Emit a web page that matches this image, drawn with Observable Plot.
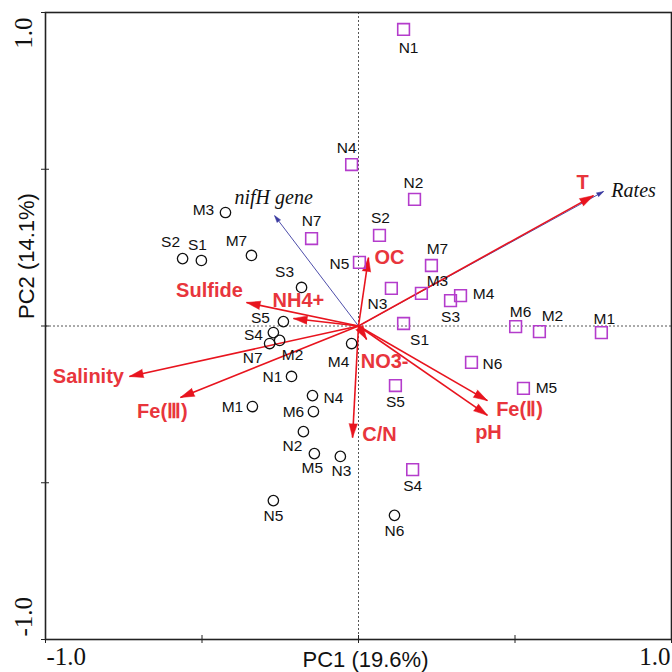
<!DOCTYPE html>
<html>
<head>
<meta charset="utf-8">
<script src="https://cdn.jsdelivr.net/npm/d3@7"></script>
<script src="https://cdn.jsdelivr.net/npm/@observablehq/plot@0.6"></script>
<style>
  html, body { margin: 0; padding: 0; background: #fff; }
  #chart { width: 672px; height: 672px; }
</style>
</head>
<body>
<div id="chart"></div>
<script>
// ---- Data ----
const circleNames = ["M3","S2","S1","M7","S3","S5","S4","M2","N7","N1","M4","N4","M6","M1","N2","M5","N3","N5","N6"];
const circlePC1 = [-0.425,-0.562,-0.502,-0.342,-0.182,-0.240,-0.272,-0.252,-0.284,-0.214,-0.022,-0.147,-0.144,-0.339,-0.176,-0.141,-0.058,-0.272,0.115];
const circlePC2 = [0.362,0.215,0.209,0.225,0.123,0.014,-0.021,-0.046,-0.056,-0.161,-0.056,-0.222,-0.273,-0.257,-0.337,-0.407,-0.416,-0.557,-0.604];

const squareNames = ["N1","N4","N2","N7","S2","N5","M7","M3","N3","S3","M4","S1","M6","M2","M1","N6","M5","S5","S4"];
const squarePC1 = [0.144,-0.022,0.179,-0.150,0.067,0.003,0.233,0.201,0.105,0.294,0.326,0.144,0.502,0.578,0.776,0.361,0.527,0.118,0.173];
const squarePC2 = [0.946,0.515,0.404,0.279,0.289,0.203,0.193,0.104,0.120,0.081,0.097,0.008,-0.002,-0.018,-0.021,-0.116,-0.199,-0.190,-0.458];

const envNames = ["T","OC","Sulfide","NH4+","Salinity","Fe(Ⅲ)","NO3-","C/N","Fe(Ⅱ)","pH"];
const envPC1 = [0.751,0.032,-0.358,-0.208,-0.732,-0.569,0.026,-0.019,0.412,0.412];
const envPC2 = [0.416,0.218,0.075,0.024,-0.161,-0.228,-0.043,-0.356,-0.238,-0.285];

const respNames = ["nifH gene","Rates"];
const respPC1 = [-0.268,0.783];
const respPC2 = [0.352,0.429];

const xTicks = [-1,-0.5,0,0.5,1];
const yTicks = [-1,-0.5,0,0.5,1];
const xTitle = "PC1 (19.6%)";
const yTitle = "PC2 (14.1%)";

// ---- Style: label offsets (px) ----
const circleOff = {M3:[-22,-2],S2:[-12,-17],S1:[-4,-15],M7:[-15,-14],S3:[-17,-15],S5:[-23,-4],S4:[-20,2],
  M2:[13,15],N7:[-17,14],N1:[-19,1],M4:[-13,18],N4:[21,2],M6:[-20,0],M1:[-20,0],N2:[-11,14],M5:[-2,14],
  N3:[1,15],N5:[0,15],N6:[0,16]};
const squareOff = {N1:[5,19],N4:[-5,-17],N2:[-1,-16],N7:[0,-18],S2:[1,-17],N5:[-20,2],M7:[6,-16],M3:[16,-12],
  N3:[-14,16],S3:[0,16],M4:[23,-2],S1:[16,17],M6:[5,-15],M2:[13,-16],M1:[3,-14],N6:[21,2],M5:[23,0],S5:[0,16],S4:[0,16]};
const envOff = {"T":[-11,-13],"OC":[21,0],"Sulfide":[-37,-12],"NH4+":[5,-18],"Salinity":[-41,0],"Fe(Ⅲ)":[-18,14],
  "NO3-":[18,22],"C/N":[27,-3],"Fe(Ⅱ)":[32,9],"pH":[1,17]};
const respOff = {"nifH gene":[-1,-18],"Rates":[30,-1]};

const RED = "#e8141e";
const RED_TXT = "#e8353c";
const PURPLE = "#b43ccc";
const BLUE = "#3a3aa0";
const SANS = "'Liberation Sans', Arial, sans-serif";
const SERIF = "'Liberation Serif', 'Times New Roman', serif";

const circles = circleNames.map((n,i)=>({name:n,x:circlePC1[i],y:circlePC2[i]}));
const squares = squareNames.map((n,i)=>({name:n,x:squarePC1[i],y:squarePC2[i]}));
const env = envNames.map((n,i)=>({name:n,x:envPC1[i],y:envPC2[i]}));
const resp = respNames.map((n,i)=>({name:n,x:respPC1[i],y:respPC2[i]}));
const angle = d => Math.atan2(d.x, d.y) * 180 / Math.PI;

const marks = [
  Plot.ruleX([0], {stroke:"#555", strokeDasharray:"2,2", strokeWidth:1}),
  Plot.ruleY([0], {stroke:"#555", strokeDasharray:"2,2", strokeWidth:1}),
  Plot.frame({stroke:"#222", strokeWidth:1.6}),
  Plot.axisX({anchor:"bottom", ticks:xTicks, tickSize:8, dy:-4, tickFormat:()=>"", label:null, stroke:"#222"}),
  Plot.axisY({anchor:"left", ticks:yTicks, tickSize:8, dx:4, tickFormat:()=>"", label:null, stroke:"#222"}),
  // tick labels
  Plot.text([xTicks[0]], {x:d=>d, frameAnchor:"bottom", text:d=>d.toFixed(1), textAnchor:"start", lineAnchor:"top", dy:8, dx:1, fontSize:25, fontFamily:SERIF, fill:"#111"}),
  Plot.text([xTicks[xTicks.length-1]], {x:d=>d, frameAnchor:"bottom", text:d=>d.toFixed(1), textAnchor:"end", lineAnchor:"top", dy:8, dx:-1, fontSize:25, fontFamily:SERIF, fill:"#111"}),
  Plot.text([yTicks[yTicks.length-1]], {y:d=>d, frameAnchor:"left", text:d=>d.toFixed(1), rotate:-90, textAnchor:"end", lineAnchor:"middle", dx:-22, dy:5, fontSize:25, fontFamily:SERIF, fill:"#111"}),
  Plot.text([yTicks[0]], {y:d=>d, frameAnchor:"left", text:d=>d.toFixed(1), rotate:-90, textAnchor:"start", lineAnchor:"middle", dx:-22, dy:-3, fontSize:25, fontFamily:SERIF, fill:"#111"}),
  // axis titles
  Plot.text([xTitle], {frameAnchor:"bottom", text:d=>d, lineAnchor:"middle", dy:20, dx:7, fontSize:22, fontFamily:SANS, fill:"#111"}),
  Plot.text([yTitle], {frameAnchor:"left", text:d=>d, rotate:-90, lineAnchor:"middle", dx:-19, dy:-7, fontSize:22, fontFamily:SANS, fill:"#111"}),
  // response arrows (blue)
  Plot.link(resp, {x1:0, y1:0, x2:"x", y2:"y", stroke:BLUE, strokeWidth:0.9}),
  Plot.vector(resp, {x:"x", y:"y", rotate:angle, length:7, r:2.2, shape:"spike", anchor:"end", fill:BLUE, stroke:BLUE, strokeWidth:0.5}),
  // environmental arrows (red)
  Plot.link(env, {x1:0, y1:0, x2:"x", y2:"y", stroke:RED, strokeWidth:1.6}),
  Plot.vector(env, {x:"x", y:"y", rotate:angle, length:14, r:4.2, shape:"spike", anchor:"end", fill:RED, stroke:RED, strokeWidth:0.5}),
  // samples
  Plot.dot(circles, {x:"x", y:"y", r:5.2, stroke:"#111", strokeWidth:1.3, fill:"none"}),
  Plot.dot(squares, {x:"x", y:"y", r:6.6, symbol:"square", stroke:PURPLE, strokeWidth:1.6, fill:"none"}),
];

circles.forEach(d => {
  const o = circleOff[d.name] || [0,0];
  marks.push(Plot.text([d], {x:"x", y:"y", text:"name", dx:o[0], dy:o[1], fontSize:15.5, fontFamily:SANS, fill:"#111"}));
});
squares.forEach(d => {
  const o = squareOff[d.name] || [0,0];
  marks.push(Plot.text([d], {x:"x", y:"y", text:"name", dx:o[0], dy:o[1], fontSize:15.5, fontFamily:SANS, fill:"#111"}));
});
env.forEach(d => {
  const o = envOff[d.name] || [0,0];
  marks.push(Plot.text([d], {x:"x", y:"y", text:"name", dx:o[0], dy:o[1], fontSize:20, fontWeight:"bold", fontFamily:SANS, fill:RED_TXT}));
});
resp.forEach(d => {
  const o = respOff[d.name] || [0,0];
  marks.push(Plot.text([d], {x:"x", y:"y", text:"name", dx:o[0], dy:o[1], fontSize:20, fontStyle:"italic", fontFamily:SERIF, fill:"#111"}));
});

const chart = Plot.plot({
  width: 672,
  height: 672,
  marginLeft: 45,
  marginRight: 1,
  marginTop: 12,
  marginBottom: 33,
  x: {domain:[-1,1], axis:null},
  y: {domain:[-1,1], axis:null},
  style: {background:"#fff", overflow:"visible"},
  marks
});
document.getElementById("chart").appendChild(chart);
</script>
</body>
</html>
